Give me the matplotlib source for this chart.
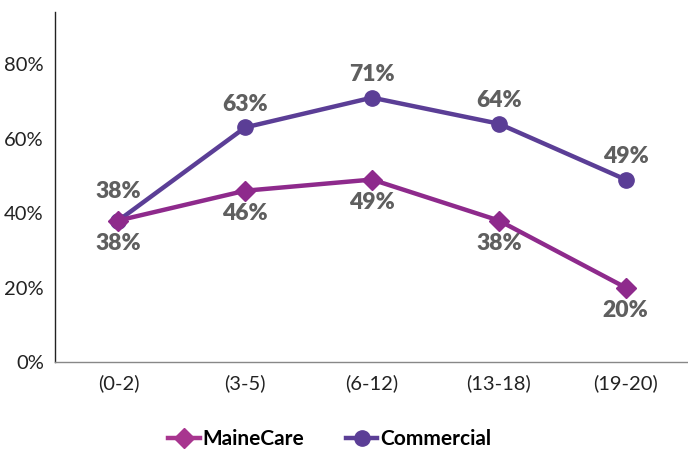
import matplotlib
matplotlib.use("Agg")
import matplotlib.pyplot as plt
from matplotlib.lines import Line2D

categories = ["(0-2)", "(3-5)", "(6-12)", "(13-18)", "(19-20)"]
mainecare = [38, 46, 49, 38, 20]
commercial = [38, 63, 71, 64, 49]
yticks = [0, 20, 40, 60, 80]

plt.rcParams['font.family'] = ['Lato', 'DejaVu Sans']

c_mc = "#8E2A8C"
c_co = "#5B3E96"
lbl = "#5F5F5F"

fig = plt.figure(figsize=(6.88, 4.5), dpi=100)
ax = fig.add_axes([55/688, 1-362/450, (689-55)/688, (362-12)/450])
x = list(range(len(categories)))
ax.plot(x, commercial, color=c_co, lw=3.2, marker="o", ms=11, zorder=3)
ax.plot(x, mainecare, color=c_mc, lw=3.2, marker="D", ms=10.5, zorder=4)

for i, v in enumerate(commercial):
    off = 13 if i == 0 else 9
    ax.annotate(f"{v}%", (i, v), xytext=(0, off), textcoords="offset points",
                ha="center", va="bottom", fontsize=16.5, fontweight="heavy", color=lbl)
for i, v in enumerate(mainecare):
    ax.annotate(f"{v}%", (i, v), xytext=(0, -9), textcoords="offset points",
                ha="center", va="top", fontsize=16.5, fontweight="heavy", color=lbl)

ax.set_xlim(-0.5, 4.5)
ax.set_ylim(0, 94)
ax.set_yticks(yticks)
ax.set_yticklabels([f"{t}%" for t in yticks], fontsize=14.5, color="#222222")
ax.set_xticks(x)
ax.set_xticklabels(categories, fontsize=14.5, color="#222222")
ax.tick_params(axis="y", length=0, pad=8)
ax.tick_params(axis="x", length=0, pad=9)
for s in ["top", "right"]:
    ax.spines[s].set_visible(False)
ax.spines["left"].set_color("#222222")
ax.spines["bottom"].set_color("#888888")
ax.spines["left"].set_linewidth(1.0)
ax.spines["bottom"].set_linewidth(1.0)

handles = [
    Line2D([], [], color="#A8358F", lw=3.2, marker="D", ms=10),
    Line2D([], [], color=c_co, lw=3.2, marker="o", ms=11),
]
fig.legend(handles, ["MaineCare", "Commercial"], loc="center", bbox_to_anchor=(330/688, 1-439/450),
           ncol=2, frameon=False, prop={"size": 15, "weight": "bold"}, handlelength=1.5,
           columnspacing=2.0, handletextpad=0.15)

fig.savefig("out.png", dpi=100)
